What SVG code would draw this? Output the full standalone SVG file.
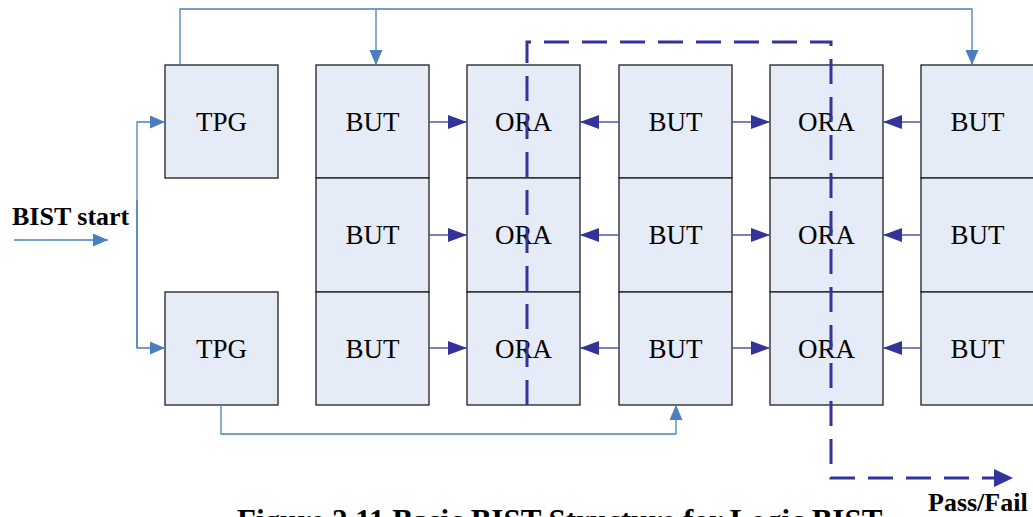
<svg xmlns="http://www.w3.org/2000/svg" width="1033" height="517" viewBox="0 0 1033 517">
  <style>
    .box { fill: #e6ecf7; stroke: #1f1f1f; stroke-width: 1.3; }
    .lbl { font-family: "Liberation Serif", "Times New Roman", serif; font-size: 27px; fill: #000; text-anchor: middle; }
    .bold { font-family: "Liberation Serif", "Times New Roman", serif; font-weight: bold; fill: #000; }
    .ctl { fill: none; stroke: #4a7ebf; stroke-width: 1.3; }
    .dat { fill: none; stroke: #5555aa; stroke-width: 1.5; }
    .res { fill: none; stroke: #333399; stroke-width: 3; stroke-dasharray: 25 13; }
    .hb { fill: #4a7ebf; }
    .hd { fill: #333399; }
  </style>
  <defs>
    <marker id="mCtl" viewBox="0 0 15 13" refX="15" refY="6.5" markerWidth="15" markerHeight="13" markerUnits="userSpaceOnUse" orient="auto">
      <path d="M0,0 L15,6.5 L0,13 Z" class="hb"/>
    </marker>
    <marker id="mDat" viewBox="0 0 19 14" refX="19" refY="7" markerWidth="19" markerHeight="14" markerUnits="userSpaceOnUse" orient="auto">
      <path d="M0,0 L19,7 L0,14 Z" class="hd"/>
    </marker>
  </defs>

  <rect width="1033" height="517" fill="#fff"/>

  <!-- pattern generators -->
  <g id="tpg1"><rect class="box" x="165" y="65" width="113" height="113"/><text class="lbl" x="221.5" y="131">TPG</text></g>
  <g id="tpg2"><rect class="box" x="165" y="292" width="113" height="113"/><text class="lbl" x="221.5" y="358">TPG</text></g>

  <!-- column 1: blocks under test -->
  <g id="but-1-1"><rect class="box" x="316" y="65" width="113" height="113"/><text class="lbl" x="372.5" y="131">BUT</text></g>
  <g id="but-2-1"><rect class="box" x="316" y="178" width="113" height="114"/><text class="lbl" x="372.5" y="244">BUT</text></g>
  <g id="but-3-1"><rect class="box" x="316" y="292" width="113" height="113"/><text class="lbl" x="372.5" y="358">BUT</text></g>

  <!-- column 2: response analyzers -->
  <g id="ora-1-2"><rect class="box" x="467" y="65" width="113" height="113"/><text class="lbl" x="523.5" y="131">ORA</text></g>
  <g id="ora-2-2"><rect class="box" x="467" y="178" width="113" height="114"/><text class="lbl" x="523.5" y="244">ORA</text></g>
  <g id="ora-3-2"><rect class="box" x="467" y="292" width="113" height="113"/><text class="lbl" x="523.5" y="358">ORA</text></g>

  <!-- column 3 -->
  <g id="but-1-3"><rect class="box" x="619" y="65" width="113" height="113"/><text class="lbl" x="675.5" y="131">BUT</text></g>
  <g id="but-2-3"><rect class="box" x="619" y="178" width="113" height="114"/><text class="lbl" x="675.5" y="244">BUT</text></g>
  <g id="but-3-3"><rect class="box" x="619" y="292" width="113" height="113"/><text class="lbl" x="675.5" y="358">BUT</text></g>

  <!-- column 4 -->
  <g id="ora-1-4"><rect class="box" x="770" y="65" width="113" height="113"/><text class="lbl" x="826.5" y="131">ORA</text></g>
  <g id="ora-2-4"><rect class="box" x="770" y="178" width="113" height="114"/><text class="lbl" x="826.5" y="244">ORA</text></g>
  <g id="ora-3-4"><rect class="box" x="770" y="292" width="113" height="113"/><text class="lbl" x="826.5" y="358">ORA</text></g>

  <!-- column 5 -->
  <g id="but-1-5"><rect class="box" x="921" y="65" width="113" height="113"/><text class="lbl" x="977.5" y="131">BUT</text></g>
  <g id="but-2-5"><rect class="box" x="921" y="178" width="113" height="114"/><text class="lbl" x="977.5" y="244">BUT</text></g>
  <g id="but-3-5"><rect class="box" x="921" y="292" width="113" height="113"/><text class="lbl" x="977.5" y="358">BUT</text></g>

  <g id="connectors">
    <!-- start signal -->
    <path class="ctl" d="M14,240 H108" marker-end="url(#mCtl)"/>
    <path class="ctl" d="M137,348 V122 H165" marker-end="url(#mCtl)"/>
    <path class="ctl" d="M137,200 V348 H165" marker-end="url(#mCtl)"/>
    <!-- pattern distribution -->
    <path class="ctl" d="M180,65 V9 H972 V65" marker-end="url(#mCtl)"/>
    <path class="ctl" d="M376,9 V65" marker-end="url(#mCtl)"/>
    <path class="ctl" d="M221,405 V434 H676 V405" marker-end="url(#mCtl)"/>

    <!-- BUT to ORA data paths, rows at y=122, 235, 348 -->
    <path class="dat" d="M429,122 H467" marker-end="url(#mDat)"/>
    <path class="dat" d="M429,235 H467" marker-end="url(#mDat)"/>
    <path class="dat" d="M429,348 H467" marker-end="url(#mDat)"/>
    <path class="dat" d="M619,122 H580" marker-end="url(#mDat)"/>
    <path class="dat" d="M619,235 H580" marker-end="url(#mDat)"/>
    <path class="dat" d="M619,348 H580" marker-end="url(#mDat)"/>
    <path class="dat" d="M732,122 H770" marker-end="url(#mDat)"/>
    <path class="dat" d="M732,235 H770" marker-end="url(#mDat)"/>
    <path class="dat" d="M732,348 H770" marker-end="url(#mDat)"/>
    <path class="dat" d="M921,122 H883" marker-end="url(#mDat)"/>
    <path class="dat" d="M921,235 H883" marker-end="url(#mDat)"/>
    <path class="dat" d="M921,348 H883" marker-end="url(#mDat)"/>

    <!-- result chain -->
    <path class="res" d="M527,405 V42 H831 V478 H994"/>
    <path class="hd" d="M994,469 L1013,478 L994,487 Z"/>
  </g>

  <text class="bold" x="12" y="225" font-size="26">BIST start</text>
  <text class="bold" x="928" y="511" font-size="26">Pass/Fail</text>
  <text class="bold" x="237" y="531" font-size="31">Figure 2.11 Basic BIST Structure for Logic BIST</text>
</svg>
